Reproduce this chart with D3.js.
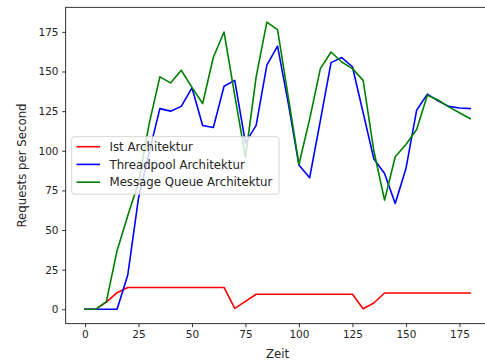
<!DOCTYPE html>
<html>
<head>
<meta charset="utf-8">
<script src="https://cdn.jsdelivr.net/npm/d3@7"></script>
<style>
  html, body { margin: 0; padding: 0; background: #fff; overflow: hidden; }
  svg { display: block; font-family: "DejaVu Sans", sans-serif; }
</style>
</head>
<body>
<svg id="chart" width="485" height="363"></svg>
<script>
// Sampling times (seconds)
const zeit = d3.range(0, 181, 5);

// Requests per second for each architecture
const istArchitektur = [0, 0, 4.5, 10.5, 13.8, 13.8, 13.8, 13.8, 13.8, 13.8, 13.8, 13.8, 13.8, 13.8,
  0.6, 5, 9.5, 9.5, 9.5, 9.5, 9.5, 9.5, 9.5, 9.5, 9.5, 9.5,
  0.4, 4, 10.3, 10.3, 10.3, 10.3, 10.3, 10.3, 10.3, 10.3, 10.3];
const threadpoolArchitektur = [0, 0, 0, 0, 21.6, 70, 99, 126.6, 125, 128, 139.7, 116, 114.7, 140.7,
  144.4, 105, 116, 154, 166, 130, 91, 83, 119, 155.6, 158.8, 153,
  124, 95, 85.7, 66.8, 88.8, 125.6, 135.7, 131.5, 128, 127, 126.6];
const messageQueueArchitektur = [0, 0, 4.8, 37, 59, 80, 117, 146.6, 142.8, 150.8, 140, 129.8, 159, 174.9,
  135, 96, 146.6, 181.2, 176.4, 134, 91.5, 120, 151.8, 162.3, 156, 151.8,
  144.4, 100, 68.9, 96.2, 104, 113.4, 135, 132, 127.7, 124, 120.3];

const xTicks = [0, 25, 50, 75, 100, 125, 150, 175];
const yTicks = [0, 25, 50, 75, 100, 125, 150, 175];

const series = [
  { name: "Ist Architektur", values: istArchitektur, color: "#ff0000" },
  { name: "Threadpool Architektur", values: threadpoolArchitektur, color: "#0000ff" },
  { name: "Message Queue Architektur", values: messageQueueArchitektur, color: "#008000" }
];

const svg = d3.select("#chart");
const tickFont = 10.5;
const labelFont = 11.75;

// Plot area (right edge lies past the visible window)
const plotLeft = 65.7, plotRight = 489.4, plotTop = 7.3, plotBottom = 323.7;

const x = d3.scaleLinear().domain([-9, 189]).range([plotLeft, plotRight]);
const y = d3.scaleLinear().domain([-9.07, 190.5]).range([plotBottom, plotTop]);

// Lines
const line = d3.line()
  .x((d, i) => x(zeit[i]))
  .y(d => y(d));

const plot = svg.append("g");
series.forEach(s => {
  plot.append("path")
    .datum(s.values)
    .attr("fill", "none")
    .attr("stroke", s.color)
    .attr("stroke-width", 1.6)
    .attr("stroke-linejoin", "round")
    .attr("stroke-linecap", "square")
    .attr("d", line);
});

// Axes
const xAxis = d3.axisBottom(x).tickValues(xTicks).tickSize(3.5).tickPadding(3.7).tickSizeOuter(0);
const yAxis = d3.axisLeft(y).tickValues(yTicks).tickSize(3.5).tickPadding(3.7).tickSizeOuter(0);

const gx = svg.append("g").attr("transform", `translate(0,${plotBottom})`).call(xAxis);
const gy = svg.append("g").attr("transform", `translate(${plotLeft},0)`).call(yAxis);

[gx, gy].forEach(g => {
  g.select(".domain").remove();
  g.selectAll(".tick line").attr("stroke", "#000").attr("stroke-width", 0.8);
  g.selectAll(".tick text")
    .attr("fill", "#262626")
    .style("font-family", "DejaVu Sans")
    .style("font-size", tickFont + "px");
});

// Spines
const spine = svg.append("g").attr("stroke", "#000").attr("stroke-width", 0.8).attr("fill", "none");
spine.append("rect")
  .attr("x", plotLeft).attr("y", plotTop)
  .attr("width", plotRight - plotLeft).attr("height", plotBottom - plotTop);

// Axis labels
svg.append("text")
  .attr("x", 277.5)
  .attr("y", 357.5)
  .attr("text-anchor", "middle")
  .attr("fill", "#262626")
  .style("font-size", labelFont + "px")
  .text("Zeit");

svg.append("text")
  .attr("transform", `translate(26,${(plotTop + plotBottom) / 2}) rotate(-90)`)
  .attr("text-anchor", "middle")
  .attr("fill", "#262626")
  .style("font-size", labelFont + "px")
  .text("Requests per Second");

// Legend
const legend = svg.append("g");
legend.append("rect")
  .attr("x", 71.7).attr("y", 136.7)
  .attr("width", 207.3).attr("height", 57.5)
  .attr("rx", 2.5).attr("ry", 2.5)
  .attr("fill", "#fff").attr("fill-opacity", 0.8)
  .attr("stroke", "#cccccc").attr("stroke-width", 0.8);

const rowY = [146.7, 164.4, 182.2];
series.forEach((s, i) => {
  legend.append("line")
    .attr("x1", 76.5).attr("x2", 100)
    .attr("y1", rowY[i]).attr("y2", rowY[i])
    .attr("stroke", s.color).attr("stroke-width", 1.6);
  legend.append("text")
    .attr("x", 109.5).attr("y", rowY[i])
    .attr("dy", "0.36em")
    .attr("fill", "#262626")
    .style("font-size", labelFont + "px")
    .text(s.name);
});
</script>
</body>
</html>
